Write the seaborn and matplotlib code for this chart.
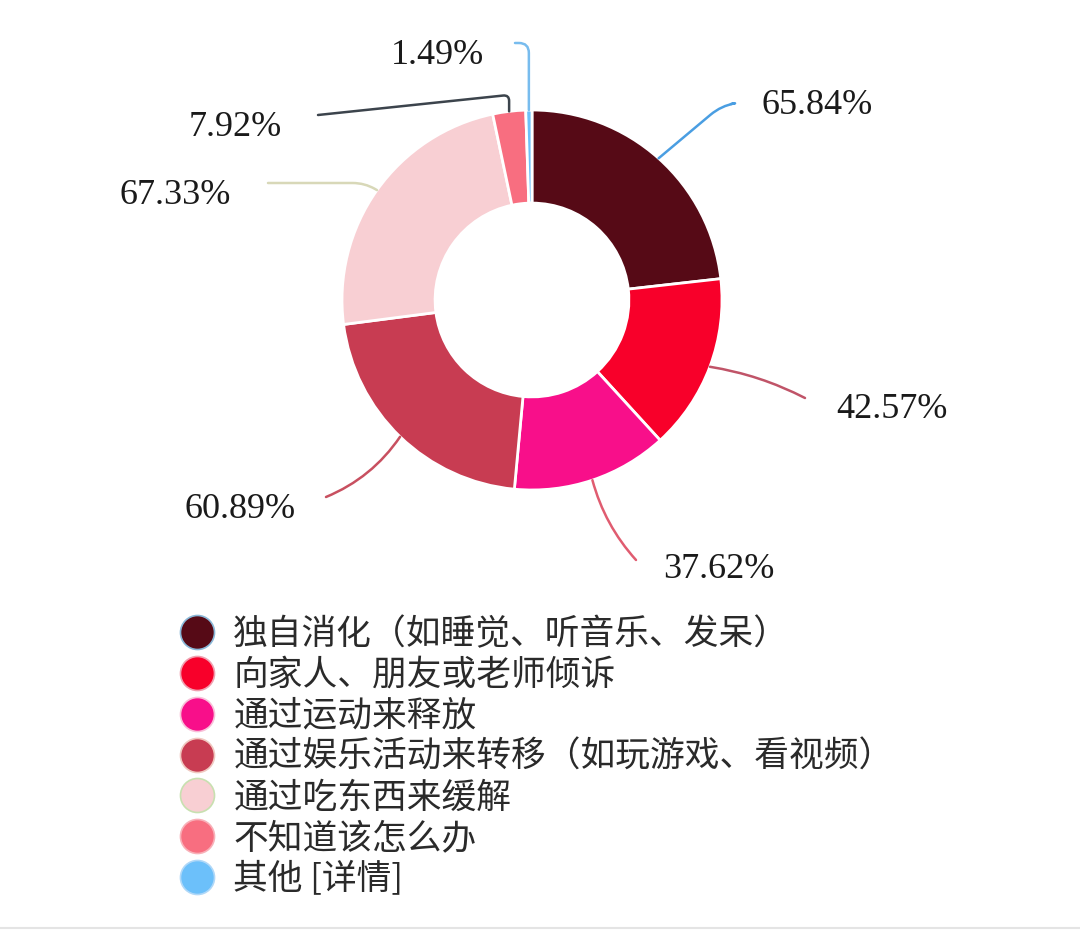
import matplotlib
matplotlib.use("Agg")
import numpy as np
import matplotlib.pyplot as plt
from matplotlib.lines import Line2D
import seaborn as sns

# 数据
categories = ["独自消化（如睡觉、听音乐、发呆）", "向家人、朋友或老师倾诉", "通过运动来释放",
              "通过娱乐活动来转移（如玩游戏、看视频）", "通过吃东西来缓解", "不知道该怎么办", "其他 [详情]"]
values = [65.84, 42.57, 37.62, 60.89, 67.33, 7.92, 1.49]
value_labels = ["65.84%", "42.57%", "37.62%", "60.89%", "67.33%", "7.92%", "1.49%"]

slice_colors = ["#560a16", "#f8002a", "#f80f8a", "#c83c52", "#f8cfd3", "#f86e80", "#6cc0fa"]
edge_tints = ["#8ab8d8", "#f0a0b0", "#f8c0d8", "#f0c8c0", "#c8e0b0", "#f8b0b8", "#b0d8f8"]
leader_colors = ["#4a9ee2", "#c05468", "#e05c70", "#c85060", "#d8d8b8", "#3c444c", "#78bcee"]

sns.set_theme(style="white")
plt.rcParams['font.family'] = ['Noto Sans CJK SC', 'DejaVu Sans']

W, H = 1080, 932
fig = plt.figure(figsize=(W / 100, H / 100), dpi=100)
ax = fig.add_axes([0, 0, 1, 1])

cx, cy, R = 532, H - 300, 190
palette = sns.color_palette(slice_colors)
wedges, _ = ax.pie(values, colors=palette, startangle=90, counterclock=False,
                   center=(cx, cy), radius=R, frame=True,
                   wedgeprops=dict(width=R * 0.49, edgecolor="white", linewidth=2))
ax.set_xlim(0, W)
ax.set_ylim(0, H)
ax.set_aspect("equal")
ax.axis("off")

# 标签位置（像素，左上原点）: 文本中心, 引线终点, 连接样式
label_layout = [
    ((817, 105), (731, 104), "angle,angleA=10,angleB=40,rad=14"),
    ((892, 410), (805, 398), "arc3,rad=0.08"),
    ((719, 570), (636, 560), "arc3,rad=-0.12"),
    ((240, 510), (326, 497), "arc3,rad=0.15"),
    ((175, 195), (268, 183), "angle,angleA=0,angleB=150,rad=12"),
    ((235, 128), (318, 115), "angle,angleA=6,angleB=90,rad=6"),
    ((437, 55), (515, 43), "angle,angleA=0,angleB=90,rad=10"),
]

for w, lab, lc, (tpos, lend, cs) in zip(wedges, value_labels, leader_colors, label_layout):
    mid = np.deg2rad((w.theta1 + w.theta2) / 2)
    sx, sy = cx + R * np.cos(mid), cy + R * np.sin(mid)
    ax.annotate("", xy=(sx, sy), xytext=(lend[0], H - lend[1]),
                arrowprops=dict(arrowstyle="-", color=lc, lw=1.8, connectionstyle=cs,
                                shrinkA=0, shrinkB=0))
    ax.text(tpos[0], H - tpos[1], lab, ha="center", va="center",
            fontsize=26, family="Liberation Serif", color="#1a1a1a")

handles = [Line2D([], [], marker="o", linestyle="", markersize=24.5,
                  markerfacecolor=c, markeredgecolor=e, markeredgewidth=1.2)
           for c, e in zip(slice_colors, edge_tints)]
ax.legend(handles, categories, loc="upper left", bbox_to_anchor=(179, H - 617),
          bbox_transform=ax.transData, frameon=False, fontsize=25,
          labelspacing=0.17, handlelength=1.04, handletextpad=0.52, borderpad=0,
          borderaxespad=0, labelcolor="#2a2a2a")

# 底部细线
fig.add_artist(Line2D([0, 1], [4 / H, 4 / H], color="#e4e4e4", lw=1.5))

fig.savefig("out.png", dpi=100, facecolor="white")
